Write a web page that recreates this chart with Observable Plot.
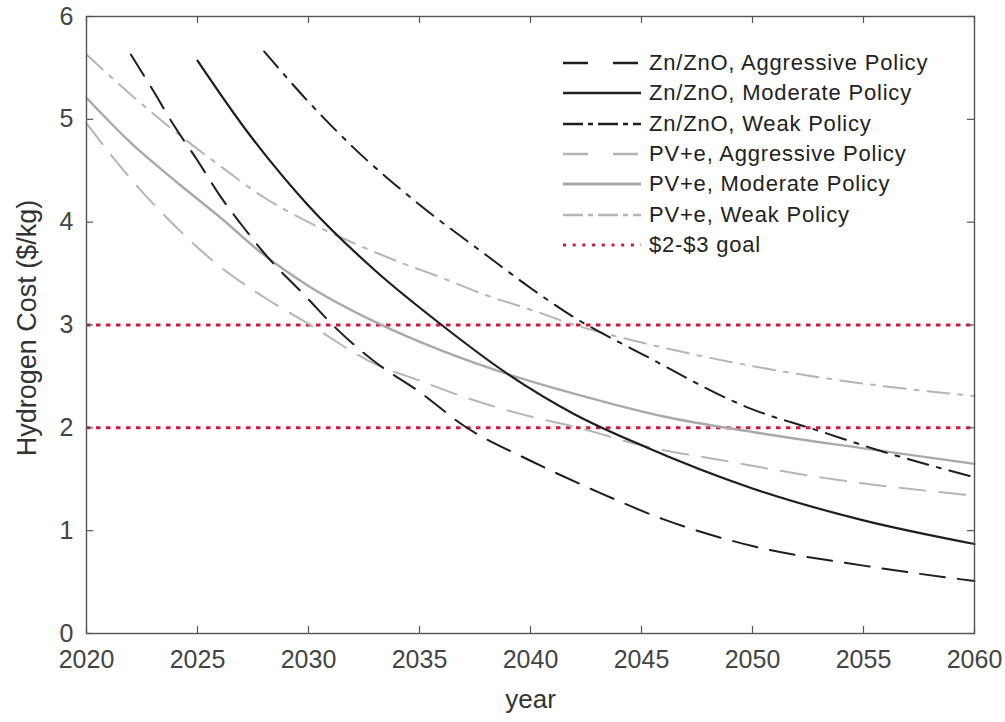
<!DOCTYPE html>
<html>
<head>
<meta charset="utf-8">
<script src="https://cdn.jsdelivr.net/npm/d3@7"></script>
<script src="https://cdn.jsdelivr.net/npm/@observablehq/plot@0.6"></script>
<style>
  html, body { margin: 0; padding: 0; background: #fff; }
  #wrap { position: relative; width: 1005px; height: 722px; font-family: "Liberation Sans", Arial, sans-serif; }
  #legend { position: absolute; left: 563px; top: 48px; }
  .row { display: flex; align-items: center; height: 30.3px; }
  .row svg { width: 78px; height: 6px; margin-right: 8px; }
  .row span { font-size: 22px; color: #222; letter-spacing: 0.8px; white-space: nowrap; }
</style>
</head>
<body>
<div id="wrap"></div>
<script>
// ---- data ----
const xTicks = [2020, 2025, 2030, 2035, 2040, 2045, 2050, 2055, 2060];
const yTicks = [0, 1, 2, 3, 4, 5, 6];
const goalLevels = [2, 3];

const seriesNames = [
  "Zn/ZnO, Aggressive Policy",
  "Zn/ZnO, Moderate Policy",
  "Zn/ZnO, Weak Policy",
  "PV+e, Aggressive Policy",
  "PV+e, Moderate Policy",
  "PV+e, Weak Policy"
];
const goalName = "$2-$3 goal";

const yearsZnAggr = [2022, 2023, 2024, 2025, 2026, 2027, 2028, 2030, 2031, 2033, 2035, 2037, 2040, 2043, 2046, 2050, 2055, 2060];
const costZnAggr  = [5.63, 5.28, 4.92, 4.60, 4.26, 3.97, 3.70, 3.25, 3.02, 2.64, 2.35, 2.02, 1.68, 1.38, 1.11, 0.85, 0.66, 0.51];

const yearsZnMod = [2025, 2027, 2030, 2033, 2036, 2039, 2042, 2045, 2050, 2055, 2060];
const costZnMod  = [5.57, 4.95, 4.16, 3.53, 3.00, 2.52, 2.13, 1.83, 1.41, 1.10, 0.87];

const yearsZnWeak = [2028, 2030, 2032, 2035, 2038, 2040, 2042, 2045, 2050, 2053, 2056, 2060];
const costZnWeak  = [5.66, 5.17, 4.73, 4.17, 3.68, 3.36, 3.07, 2.72, 2.18, 1.97, 1.76, 1.52];

const yearsPvAggr = [2020, 2022, 2024, 2026, 2028, 2030, 2033, 2035, 2037, 2040, 2042, 2045, 2049, 2053, 2060];
const costPvAggr  = [4.96, 4.42, 3.96, 3.57, 3.27, 3.01, 2.62, 2.46, 2.30, 2.11, 2.01, 1.83, 1.67, 1.52, 1.34];

const yearsPvMod = [2020, 2022, 2024, 2026, 2028, 2030, 2033, 2036, 2039, 2042, 2046, 2050, 2055, 2060];
const costPvMod  = [5.21, 4.77, 4.40, 4.05, 3.68, 3.38, 3.03, 2.75, 2.52, 2.33, 2.11, 1.96, 1.80, 1.65];

const yearsPvWeak = [2020, 2022, 2024, 2026, 2028, 2030, 2032, 2034, 2036, 2038, 2040, 2042, 2045, 2050, 2055, 2060];
const costPvWeak  = [5.63, 5.24, 4.88, 4.55, 4.24, 4.00, 3.80, 3.62, 3.46, 3.29, 3.15, 3.00, 2.83, 2.60, 2.43, 2.31];

// ---- styles ----
const BLACK = "#1e1e1e", GRAY = "#a9a9a9", LIGHT = "#b5b5b5", RED = "#d4183d";
const styles = [
  {stroke: BLACK, dash: "25,13", legendDash: "25,25", width: 2},
  {stroke: BLACK, dash: null,    legendDash: null,    width: 2.2},
  {stroke: BLACK, dash: "21,9,4,9", legendDash: "20,5,5,5", width: 2},
  {stroke: LIGHT, dash: "26,14", legendDash: "25,25", width: 2},
  {stroke: GRAY,  dash: null,    legendDash: null,    width: 2.4},
  {stroke: LIGHT, dash: "22,9,4,9", legendDash: "20,5,5,5", width: 2}
];

const seriesYears = [yearsZnAggr, yearsZnMod, yearsZnWeak, yearsPvAggr, yearsPvMod, yearsPvWeak];
const seriesCosts = [costZnAggr, costZnMod, costZnWeak, costPvAggr, costPvMod, costPvWeak];
const seriesData = seriesYears.map((ys, k) => ys.map((yr, i) => ({year: yr, cost: seriesCosts[k][i]})));

const drawOrder = [3, 4, 5, 0, 1, 2];
const lineMarks = drawOrder.map(k => Plot.line(seriesData[k], {
  x: "year", y: "cost",
  stroke: styles[k].stroke,
  strokeWidth: styles[k].width,
  strokeDasharray: styles[k].dash,
  curve: "monotone-x"
}));

// ---- layout ----
const W = 1005, H = 722;
const mL = 86, mR = 31, mT = 16, mB = 89;
const innerW = W - mL - mR, innerH = H - mT - mB;
const TL = 7; // inward tick length
const tickColor = "#444", frameColor = "#555";

const chart = Plot.plot({
  width: W,
  height: H,
  marginLeft: mL,
  marginRight: mR,
  marginTop: mT,
  marginBottom: mB,
  x: {domain: [2020, 2060]},
  y: {domain: [0, 6]},
  style: {fontFamily: "'Liberation Sans', Arial, sans-serif", background: "#fff", color: tickColor},
  marks: [
    Plot.ruleY(goalLevels, {stroke: RED, strokeWidth: 3, strokeDasharray: "4.5,5.5"}),
    ...lineMarks,
    Plot.frame({stroke: frameColor, strokeWidth: 1.4}),
    // inward ticks on all four sides
    Plot.tickX(xTicks, {x: d => d, insetTop: innerH - TL, stroke: frameColor, strokeWidth: 1.2}),
    Plot.tickX(xTicks, {x: d => d, insetBottom: innerH - TL, stroke: frameColor, strokeWidth: 1.2}),
    Plot.tickY(yTicks, {y: d => d, insetRight: innerW - TL, stroke: frameColor, strokeWidth: 1.2}),
    Plot.tickY(yTicks, {y: d => d, insetLeft: innerW - TL, stroke: frameColor, strokeWidth: 1.2}),
    // tick labels
    Plot.axisX(xTicks, {anchor: "bottom", tickSize: 0, tickPadding: 17, tickFormat: d => String(d), label: null, fontSize: 25, fill: tickColor}),
    Plot.axisY(yTicks, {anchor: "left", tickSize: 0, tickPadding: 13, tickFormat: d => String(d), label: null, fontSize: 25, fill: tickColor}),
    // axis titles
    Plot.text(["year"], {frameAnchor: "bottom", lineAnchor: "middle", textAnchor: "middle", dy: 66, fontSize: 26, fill: "#333", text: d => d}),
    Plot.text(["Hydrogen Cost ($/kg)"], {frameAnchor: "left", textAnchor: "middle", lineAnchor: "middle", dx: -59, dy: 3, rotate: -90, fontSize: 27, fill: "#333", text: d => d})
  ]
});

const wrap = document.getElementById("wrap");
wrap.appendChild(chart);

// legend (inside plot area, top right)
const legend = document.createElement("div");
legend.id = "legend";
const entries = seriesNames.map((name, k) => ({name, stroke: styles[k].stroke, dash: styles[k].legendDash, width: styles[k].width + 0.4}));
entries.push({name: goalName, stroke: RED, dash: "3,6.7", width: 3});
for (const e of entries) {
  const row = document.createElement("div");
  row.className = "row";
  const ns = "http://www.w3.org/2000/svg";
  const s = document.createElementNS(ns, "svg");
  s.setAttribute("viewBox", "0 0 78 6");
  const ln = document.createElementNS(ns, "line");
  ln.setAttribute("x1", 0); ln.setAttribute("x2", 78);
  ln.setAttribute("y1", 3); ln.setAttribute("y2", 3);
  ln.setAttribute("stroke", e.stroke);
  ln.setAttribute("stroke-width", e.width);
  if (e.dash) ln.setAttribute("stroke-dasharray", e.dash);
  s.appendChild(ln);
  const t = document.createElement("span");
  t.textContent = e.name;
  row.appendChild(s);
  row.appendChild(t);
  legend.appendChild(row);
}
wrap.appendChild(legend);
</script>
</body>
</html>
